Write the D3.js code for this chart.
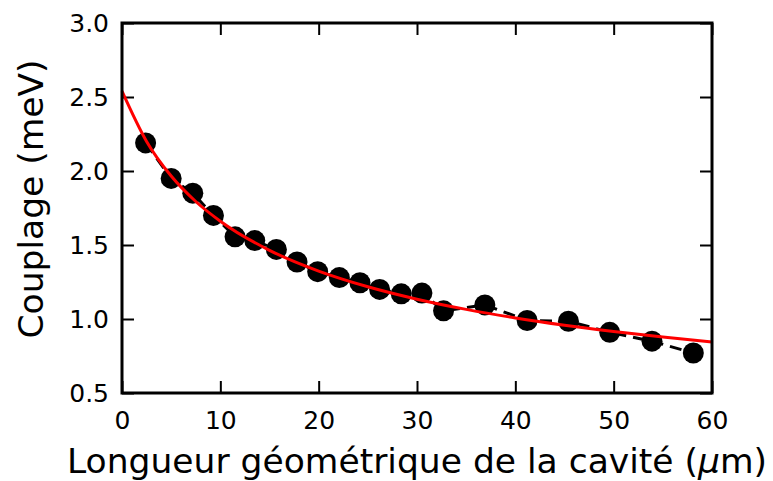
<!DOCTYPE html>
<html>
<head>
<meta charset="utf-8">
<script src="https://cdn.jsdelivr.net/npm/d3@7"></script>
<style>
  body { margin: 0; background: #fff; }
  svg { display: block; font-family: "DejaVu Sans", sans-serif; }
</style>
</head>
<body>
<div id="chart"></div>
<script>
// measured points: cavity length (um) vs coupling (meV)
const lengths = [2.4, 5.0, 7.2, 9.3, 11.5, 13.5, 15.7, 17.8, 19.9, 22.1, 24.2, 26.2, 28.4, 30.5, 32.7, 36.9, 41.2, 45.4, 49.6, 53.9, 58.1];
const couplings = [2.19, 1.95, 1.85, 1.70, 1.555, 1.53, 1.47, 1.385, 1.32, 1.28, 1.245, 1.20, 1.17, 1.175, 1.055, 1.095, 0.99, 0.985, 0.91, 0.85, 0.77];

// fitted curve
const fitX = [0, 2.5, 5, 7.5, 10, 15, 20, 25, 30, 35, 40, 45, 50, 55, 60];
const fitY = [2.54, 2.20, 1.966, 1.794, 1.661, 1.464, 1.324, 1.218, 1.134, 1.065, 1.007, 0.958, 0.916, 0.878, 0.845];

const xTicks = [0, 10, 20, 30, 40, 50, 60];
const yTicks = [0.5, 1.0, 1.5, 2.0, 2.5, 3.0];

const width = 773, height = 481;
const margin = {top: 23, right: 61, bottom: 88, left: 122};

const svg = d3.select('#chart').append('svg')
    .attr('width', width)
    .attr('height', height);

const x = d3.scaleLinear().domain([0, 60]).range([margin.left, width - margin.right]);
const y = d3.scaleLinear().domain([0.5, 3.0]).range([height - margin.bottom, margin.top]);

const tickLen = 12;

// bottom + top axes (ticks inward)
svg.append('g')
    .attr('transform', `translate(0,${y(0.5)})`)
    .call(d3.axisBottom(x).tickValues(xTicks).tickFormat(d3.format('d')).tickSizeInner(-tickLen).tickSizeOuter(0).tickPadding(18))
    .call(g => g.select('.domain').remove());
svg.append('g')
    .attr('transform', `translate(0,${y(3.0)})`)
    .call(d3.axisTop(x).tickValues(xTicks).tickSizeInner(-tickLen).tickSizeOuter(0).tickFormat(''))
    .call(g => g.select('.domain').remove());

svg.append('g')
    .attr('transform', `translate(${x(0)},0)`)
    .call(d3.axisLeft(y).tickValues(yTicks).tickFormat(d3.format('.1f')).tickSizeInner(-tickLen).tickSizeOuter(0).tickPadding(13))
    .call(g => g.select('.domain').remove());
svg.append('g')
    .attr('transform', `translate(${x(60)},0)`)
    .call(d3.axisRight(y).tickValues(yTicks).tickSizeInner(-tickLen).tickSizeOuter(0).tickFormat(''))
    .call(g => g.select('.domain').remove());

svg.selectAll('.tick line').attr('stroke', '#000').attr('stroke-width', 2);
svg.selectAll('.tick text')
    .attr('fill', '#000')
    .style('font-family', '"DejaVu Sans", sans-serif')
    .style('font-size', '25px');

const pts = lengths.map((d, i) => [d, couplings[i]]);

// dashed connecting line
svg.append('path')
    .datum(pts)
    .attr('fill', 'none')
    .attr('stroke', '#000')
    .attr('stroke-width', 3)
    .attr('stroke-dasharray', '12,7')
    .attr('d', d3.line().x(d => x(d[0])).y(d => y(d[1])));

svg.selectAll('circle.pt')
    .data(pts)
    .enter().append('circle')
    .attr('class', 'pt')
    .attr('cx', d => x(d[0]))
    .attr('cy', d => y(d[1]))
    .attr('r', 10.5)
    .attr('fill', '#000');

// fit
svg.append('path')
    .datum(fitX.map((d, i) => [d, fitY[i]]))
    .attr('fill', 'none')
    .attr('stroke', '#ff0000')
    .attr('stroke-width', 3)
    .attr('d', d3.line().curve(d3.curveMonotoneX).x(d => x(d[0])).y(d => y(d[1])));

// frame
svg.append('rect')
    .attr('x', x(0)).attr('y', y(3.0))
    .attr('width', x(60) - x(0)).attr('height', y(0.5) - y(3.0))
    .attr('fill', 'none').attr('stroke', '#000').attr('stroke-width', 3);

const xl = svg.append('text')
    .attr('x', (x(0) + x(60)) / 2)
    .attr('y', 473)
    .attr('text-anchor', 'middle')
    .style('font-size', '34.5px');
xl.append('tspan').text('Longueur géométrique de la cavité (');
xl.append('tspan').style('font-style', 'italic').text('μ');
xl.append('tspan').text('m)');

svg.append('text')
    .attr('transform', `translate(43,${199}) rotate(-90)`)
    .attr('text-anchor', 'middle')
    .style('font-size', '34.5px')
    .text('Couplage (meV)');
</script>
</body>
</html>
